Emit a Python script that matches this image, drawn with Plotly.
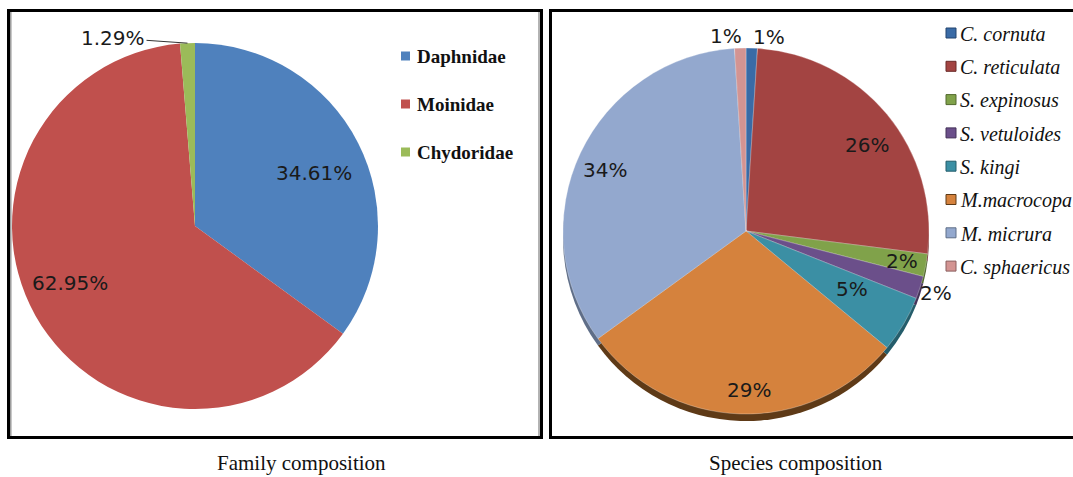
import math
import plotly.graph_objects as go

# ---------------- data ----------------
family_labels = ["Daphnidae", "Moinidae", "Chydoridae"]
family_values = [34.61, 62.95, 1.29]
family_colors = ["#4F81BD", "#C0504D", "#9BBB59"]

species_labels = ["C. cornuta", "C. reticulata", "S. expinosus", "S. vetuloides",
                  "S. kingi", "M.macrocopa", "M. micrura", "C. sphaericus"]
species_values = [1, 26, 2, 2, 5, 29, 34, 1]
species_colors = ["#3A6BA6", "#A34442", "#80A24A", "#6B4F8A",
                  "#3B8FA4", "#D5823D", "#93A8CE", "#D39492"]
species_shadow = ["#22446E", "#6A2A28", "#52692E", "#443258",
                  "#245D6B", "#5E3A17", "#5F6E88", "#8A5F5E"]

captions = ["Family composition", "Species composition"]

# ---------------- layout helpers ----------------
W, H = 1073, 477


def px(x):
    return x / W


def py(y):
    return 1 - y / H


# pie geometry (pixels)
L_CX, L_CY, L_R = 195, 226, 183
R_CX, R_CY, R_R = 746, 231, 183
SHADOW_DY = 7

# label placement: radial factor and angular nudge (degrees)
family_lab_f = [0.71, 0.75, None]
family_lab_nudge = [3, 5, 0]
species_lab_f = [1.07, 0.81, 0.87, 1.09, 0.66, 0.87, 0.84, 1.07]
species_lab_nudge = [5, 4, 0, 0, -2, -3, -2, -4]


def mid_angles(values):
    tot = sum(values)
    out, acc = [], 0.0
    for v in values:
        out.append((acc + v / 2) / tot * 360.0)
        acc += v
    return out


def polar(cx, cy, r, ang):
    a = math.radians(ang)
    return cx + r * math.sin(a), cy - r * math.cos(a)


fig = go.Figure()

# left pie
fig.add_trace(go.Pie(
    labels=family_labels, values=family_values, sort=False,
    direction="clockwise", rotation=0,
    marker=dict(colors=family_colors, line=dict(width=0)),
    textinfo="none", showlegend=False, hoverinfo="label+value",
    domain=dict(x=[px(L_CX - L_R), px(L_CX + L_R)],
                y=[py(L_CY + L_R), py(L_CY - L_R)]),
))

# right pie shadow (3D rim)
fig.add_trace(go.Pie(
    labels=species_labels, values=species_values, sort=False,
    direction="clockwise", rotation=0,
    marker=dict(colors=species_shadow, line=dict(width=0)),
    textinfo="none", showlegend=False, hoverinfo="skip",
    domain=dict(x=[px(R_CX - R_R), px(R_CX + R_R)],
                y=[py(R_CY + R_R + SHADOW_DY), py(R_CY - R_R + SHADOW_DY)]),
))

# right pie
fig.add_trace(go.Pie(
    labels=species_labels, values=species_values, sort=False,
    direction="clockwise", rotation=0,
    marker=dict(colors=species_colors,
                line=dict(width=0.8, color="rgba(255,255,255,0.35)")),
    textinfo="none", showlegend=False, hoverinfo="label+percent",
    domain=dict(x=[px(R_CX - R_R), px(R_CX + R_R)],
                y=[py(R_CY + R_R), py(R_CY - R_R)]),
))

annotations = []
lab_font = dict(family="DejaVu Sans", size=20, color="#1a1a1a")

# left labels (values are already percentages)
for i, (v, ang) in enumerate(zip(family_values, mid_angles(family_values))):
    txt = f"{v:.2f}%"
    if family_lab_f[i] is not None:
        x, y = polar(L_CX, L_CY, L_R * family_lab_f[i], ang + family_lab_nudge[i])
        annotations.append(dict(x=px(x), y=py(y), xref="paper", yref="paper",
                                xanchor="center", yanchor="middle",
                                text=txt, showarrow=False, font=lab_font))
    else:
        x, y = polar(L_CX, L_CY, L_R, ang)
        annotations.append(dict(x=px(x), y=py(y), xref="paper", yref="paper",
                                xanchor="center", yanchor="middle",
                                text=txt, showarrow=True, arrowhead=0,
                                arrowwidth=1, arrowcolor="#333333",
                                ax=113 - x, ay=38 - y, font=lab_font))

# right labels
tot = sum(species_values)
for i, (v, ang) in enumerate(zip(species_values, mid_angles(species_values))):
    txt = f"{round(v / tot * 100)}%"
    x, y = polar(R_CX, R_CY, R_R * species_lab_f[i], ang + species_lab_nudge[i])
    annotations.append(dict(x=px(x), y=py(y), xref="paper", yref="paper",
                            xanchor="center", yanchor="middle",
                            text=txt, showarrow=False, font=lab_font))

shapes = []
# panel borders
shapes.append(dict(type="rect", xref="paper", yref="paper",
                   x0=px(8.5), x1=px(541.5), y0=py(437.5), y1=py(10.5),
                   line=dict(color="black", width=3)))
shapes.append(dict(type="line", xref="paper", yref="paper",
                   x0=px(539), x1=px(539), y0=py(436), y1=py(12),
                   line=dict(color="#9a9a9a", width=1.5)))
shapes.append(dict(type="line", xref="paper", yref="paper",
                   x0=px(10.8), x1=px(10.8), y0=py(436), y1=py(12),
                   line=dict(color="#9a9a9a", width=1.5)))
shapes.append(dict(type="rect", xref="paper", yref="paper",
                   x0=px(550.5), x1=px(1090), y0=py(437.5), y1=py(10.5),
                   line=dict(color="black", width=3)))

# left legend
for i, (lab, col) in enumerate(zip(family_labels, family_colors)):
    cy = 56 + i * 48
    shapes.append(dict(type="rect", xref="paper", yref="paper",
                       x0=px(401), x1=px(410), y0=py(cy + 4.5), y1=py(cy - 4.5),
                       fillcolor=col, line=dict(width=0)))
    annotations.append(dict(x=px(415), y=py(cy + 1), xref="paper", yref="paper",
                            xanchor="left", yanchor="middle",
                            text=f"<b>{lab}</b>", showarrow=False,
                            font=dict(family="Liberation Serif", size=19,
                                      color="#111111")))

# right legend
for i, (lab, col, sc) in enumerate(zip(species_labels, species_colors, species_shadow)):
    cy = 33 + i * 33.3
    shapes.append(dict(type="rect", xref="paper", yref="paper",
                       x0=px(946), x1=px(956), y0=py(cy + 5), y1=py(cy - 5),
                       fillcolor=col, line=dict(width=1, color=sc)))
    annotations.append(dict(x=px(958), y=py(cy + 1), xref="paper", yref="paper",
                            xanchor="left", yanchor="middle",
                            text=f"<i>{lab}</i>", showarrow=False,
                            font=dict(family="Liberation Serif", size=20,
                                      color="#111111")))

# captions
for cap, cx in zip(captions, [301, 796]):
    annotations.append(dict(x=px(cx), y=py(463), xref="paper", yref="paper",
                            xanchor="center", yanchor="middle",
                            text=cap, showarrow=False,
                            font=dict(family="Liberation Serif", size=21,
                                      color="#111111")))

fig.update_layout(
    width=W, height=H,
    margin=dict(l=0, r=0, t=0, b=0),
    paper_bgcolor="white", plot_bgcolor="white",
    showlegend=False,
    annotations=annotations, shapes=shapes,
)

fig.write_html(
    "out.html",
    config={"displayModeBar": False},
    post_script="document.body.style.margin='0';document.body.style.overflow='hidden';",
)
